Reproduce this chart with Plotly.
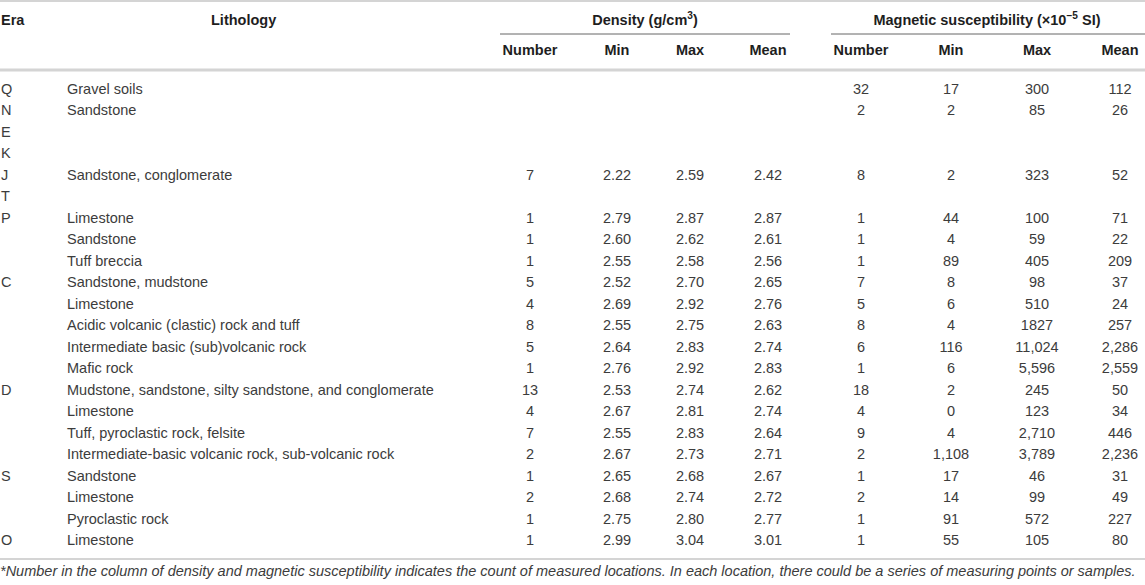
import plotly.graph_objects as go

# table contents, one list per column (strings kept as printed)
eras = ["Q", "N", "E", "K", "J", "T", "P", "", "", "C", "", "", "", "",
        "D", "", "", "", "S", "", "", "O"]
lithology = [
    "Gravel soils", "Sandstone", "", "", "Sandstone, conglomerate", "",
    "Limestone", "Sandstone", "Tuff breccia",
    "Sandstone, mudstone", "Limestone", "Acidic volcanic (clastic) rock and tuff",
    "Intermediate basic (sub)volcanic rock", "Mafic rock",
    "Mudstone, sandstone, silty sandstone, and conglomerate", "Limestone",
    "Tuff, pyroclastic rock, felsite",
    "Intermediate-basic volcanic rock, sub-volcanic rock",
    "Sandstone", "Limestone", "Pyroclastic rock", "Limestone",
]
density_number = ["", "", "", "", "7", "", "1", "1", "1", "5", "4", "8", "5", "1",
                  "13", "4", "7", "2", "1", "2", "1", "1"]
density_min = ["", "", "", "", "2.22", "", "2.79", "2.60", "2.55", "2.52", "2.69",
               "2.55", "2.64", "2.76", "2.53", "2.67", "2.55", "2.67", "2.65",
               "2.68", "2.75", "2.99"]
density_max = ["", "", "", "", "2.59", "", "2.87", "2.62", "2.58", "2.70", "2.92",
               "2.75", "2.83", "2.92", "2.74", "2.81", "2.83", "2.73", "2.68",
               "2.74", "2.80", "3.04"]
density_mean = ["", "", "", "", "2.42", "", "2.87", "2.61", "2.56", "2.65", "2.76",
                "2.63", "2.74", "2.83", "2.62", "2.74", "2.64", "2.71", "2.67",
                "2.72", "2.77", "3.01"]
mag_number = ["32", "2", "", "", "8", "", "1", "1", "1", "7", "5", "8", "6", "1",
              "18", "4", "9", "2", "1", "2", "1", "1"]
mag_min = ["17", "2", "", "", "2", "", "44", "4", "89", "8", "6", "4", "116", "6",
           "2", "0", "4", "1,108", "17", "14", "91", "55"]
mag_max = ["300", "85", "", "", "323", "", "100", "59", "405", "98", "510", "1827",
           "11,024", "5,596", "245", "123", "2,710", "3,789", "46", "99", "572", "105"]
mag_mean = ["112", "26", "", "", "52", "", "71", "22", "209", "37", "24", "257",
            "2,286", "2,559", "50", "34", "446", "2,236", "31", "49", "227", "80"]

sub_headers = ["Number", "Min", "Max", "Mean"]
footnote = ("*Number in the column of density and magnetic susceptibility indicates the count "
            "of measured locations. In each location, there could be a series of measuring "
            "points or samples.")

W, H = 1145, 585
FONT = "Liberation Sans, Arial, Helvetica, sans-serif"
BODY = "#3c3c3c"
HEAD = "#1e1e1e"
ROW0, ROW_H = 90, 21.5
rows = [ROW0 + i * ROW_H for i in range(len(eras))]

fig = go.Figure()


def col(x, y, text, pos, size=14.5, color=BODY, bold=False, italic=False):
    if bold:
        text = ["<b>%s</b>" % t if t else "" for t in text]
    if italic:
        text = ["<i>%s</i>" % t if t else "" for t in text]
    fig.add_trace(go.Scatter(
        x=[x] * len(text), y=y, text=text, mode="text", textposition=pos,
        textfont=dict(family=FONT, size=size, color=color),
        hoverinfo="skip", showlegend=False))


# body columns
col(1, rows, eras, "middle right")
col(67, rows, lithology, "middle right")
dens_x = [530, 617, 690, 768]
mag_x = [861, 951, 1037, 1120]
for x, vals in zip(dens_x, [density_number, density_min, density_max, density_mean]):
    col(x, rows, vals, "middle center")
for x, vals in zip(mag_x, [mag_number, mag_min, mag_max, mag_mean]):
    col(x, rows, vals, "middle center")

# header
col(1, [21], ["Era"], "middle right", color=HEAD, bold=True)
col(211, [21], ["Lithology"], "middle right", color=HEAD, bold=True)
col(645, [21], ["Density (g/cm<sup>3</sup>)"], "middle center", color=HEAD, bold=True)
col(987, [21], ["Magnetic susceptibility (×10<sup>−5</sup> SI)"], "middle center",
    color=HEAD, bold=True)
for x, t in zip(dens_x + mag_x, sub_headers + sub_headers):
    col(x, [51], [t], "middle center", color=HEAD, bold=True)

# footnote
col(0, [572], [footnote], "middle right", size=14.5, italic=True)

# rules
fig.add_shape(type="line", x0=0, x1=W, y0=1, y1=1, line=dict(color="#d4d4d4", width=2))
fig.add_shape(type="line", x0=500, x1=790, y0=34, y1=34, line=dict(color="#666666", width=1))
fig.add_shape(type="line", x0=831, x1=W, y0=34, y1=34, line=dict(color="#666666", width=1))
fig.add_shape(type="line", x0=0, x1=W, y0=70, y1=70, line=dict(color="#d4d4d4", width=3))
fig.add_shape(type="line", x0=0, x1=W, y0=559, y1=559, line=dict(color="#d4d4d4", width=2))

fig.update_layout(
    width=W, height=H, margin=dict(l=0, r=0, t=0, b=0),
    paper_bgcolor="white", plot_bgcolor="white",
    xaxis=dict(range=[0, W], visible=False, fixedrange=True),
    yaxis=dict(range=[H, 0], visible=False, fixedrange=True),
)

fig.write_html("out.html", config={"displayModeBar": False},
               post_script="document.body.style.margin='0';")
